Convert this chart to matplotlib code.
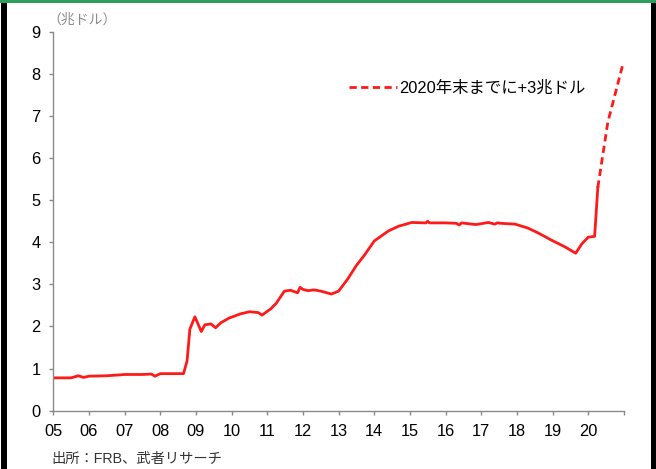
import matplotlib.pyplot as plt
from matplotlib.patches import Rectangle

# FRB balance sheet (trillion USD)
years = [2005.0, 2005.5, 2005.7, 2005.85, 2006.0, 2006.5, 2006.85, 2007.0, 2007.5,
         2007.75, 2007.85, 2008.0, 2008.3, 2008.65, 2008.75, 2008.83, 2008.97, 2009.15,
         2009.25, 2009.42, 2009.55, 2009.7, 2009.93, 2010.25, 2010.5, 2010.75, 2010.85,
         2011.1, 2011.25, 2011.48, 2011.65, 2011.85, 2011.92, 2012.0, 2012.15, 2012.3,
         2012.5, 2012.8, 2013.0, 2013.25, 2013.5, 2013.73, 2014.0, 2014.4, 2014.68,
         2015.05, 2015.45, 2015.5, 2015.55, 2016.0, 2016.3, 2016.38, 2016.45, 2016.85,
         2017.2, 2017.38, 2017.45, 2017.55, 2017.95, 2018.3,
         2018.6, 2018.97, 2019.35, 2019.65, 2019.82, 2020.0, 2020.18, 2020.27]
assets = [0.78, 0.78, 0.83, 0.79, 0.82, 0.83, 0.85, 0.86, 0.86,
          0.87, 0.82, 0.88, 0.88, 0.88, 1.18, 1.94, 2.23, 1.88,
          2.04, 2.06, 1.97, 2.09, 2.2, 2.3, 2.35, 2.33, 2.27,
          2.42, 2.55, 2.84, 2.86, 2.8, 2.93, 2.88, 2.85, 2.87,
          2.84, 2.77, 2.84, 3.12, 3.45, 3.7, 4.03, 4.27, 4.38,
          4.47, 4.46, 4.5, 4.46, 4.46, 4.45, 4.41, 4.46, 4.42,
          4.47, 4.43, 4.46, 4.45, 4.43, 4.34,
          4.22, 4.05, 3.89, 3.74, 3.96, 4.12, 4.14, 5.3]
proj_years = [2020.27, 2020.55, 2020.97]
proj_assets = [5.3, 6.85, 8.22]

xticks = list(range(2005, 2022))
xlabels = ["%02d" % (y % 100) for y in range(2005, 2021)] + [""]

jp = ["Liberation Sans", "Noto Sans CJK JP", "DejaVu Sans"]
plt.rcParams["font.family"] = jp

fig = plt.figure(figsize=(6.56, 4.69), dpi=100)
ax = fig.add_axes([0.0813, 0.1243, 0.8697, 0.8081])

red = "#ff1a1a"
ax.plot(years, assets, color=red, lw=2.0, solid_joinstyle="round")
ax.plot(proj_years, proj_assets, color=red, lw=2.0, ls=(0, (2.6, 1.6)),
        label="2020年末までに+3兆ドル")

ax.set_xlim(2005, 2021)
ax.set_ylim(0, 9)
ax.set_xticks(xticks)
ax.set_xticklabels(xlabels)
ax.set_yticks(range(0, 10))
for s in ["top", "right"]:
    ax.spines[s].set_visible(False)
for s in ["left", "bottom"]:
    ax.spines[s].set_color("#8a8a8a")
    ax.spines[s].set_linewidth(1.0)
ax.tick_params(axis="both", direction="out", length=3, width=1.0, color="#8a8a8a",
               labelsize=11.8, labelcolor="#000000")
ax.tick_params(axis="y", pad=6)
ax.tick_params(axis="x", pad=6.5)

ax.legend(loc="center left", bbox_to_anchor=(349 / 656, 1 - 88 / 469),
          bbox_transform=fig.transFigure, frameon=False, fontsize=11.8,
          handlelength=2.9, handletextpad=0.15, borderpad=0, borderaxespad=0)

fig.text(47 / 656, 1 - 20 / 469, "（兆ドル）", fontsize=10, color="#8c8c8c",
         va="center", ha="left")
fig.text(51 / 656, 1 - 459 / 469, "出所：FRB、武者リサーチ", fontsize=10.3,
         color="#333333", va="center", ha="left")

# frame of the original screenshot
fig.add_artist(Rectangle((0, 1 - 3 / 469), 1, 3 / 469, transform=fig.transFigure,
                         color="#2e9e5a", lw=0))
fig.add_artist(Rectangle((1 / 656, 0), 5.5 / 656, 1 - 3 / 469, transform=fig.transFigure,
                         color="black", lw=0))
fig.add_artist(Rectangle((651 / 656, 0), 5 / 656, 1 - 3 / 469, transform=fig.transFigure,
                         color="black", lw=0))

fig.savefig("out.png", dpi=100)
